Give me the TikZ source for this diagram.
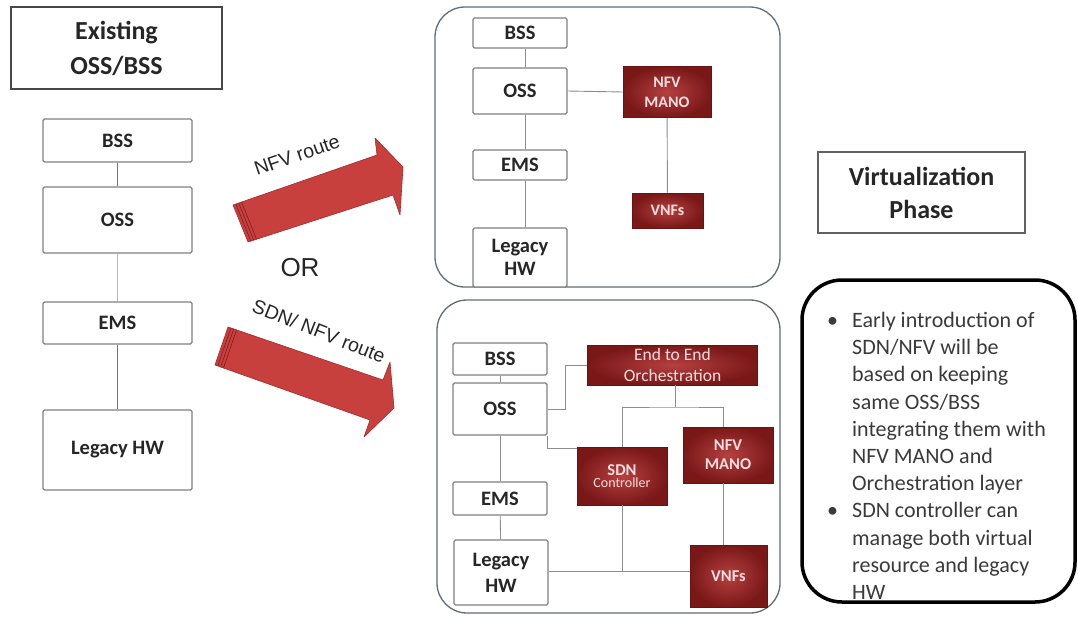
\documentclass[tikz,border=0pt]{standalone}
\usepackage{fontspec}
\setmainfont{Carlito}
\newfontfamily\arialf{Liberation Sans}
\usetikzlibrary{calc}

\definecolor{boxline}{RGB}{128,128,128}
\definecolor{labeltxt}{RGB}{38,38,38}
\definecolor{notetxt}{RGB}{58,58,58}
\definecolor{panelline}{RGB}{96,108,120}
\definecolor{redin}{RGB}{182,64,64}
\definecolor{redout}{RGB}{122,24,24}
\definecolor{redtxt}{RGB}{248,222,222}
\definecolor{arrowred}{RGB}{200,64,62}
\definecolor{arrowedge}{RGB}{165,42,42}
\definecolor{linkgray}{RGB}{140,140,140}

\begin{document}
\begin{tikzpicture}[x=1pt,y=-1pt,
  sz/.style 2 args={minimum width=#1, minimum height=#2},
  plainbox/.style={draw=boxline, line width=1.1pt, fill=white, text=labeltxt,
    align=center, inner sep=0pt, rounded corners=1.5pt,
    font=\fontsize{20.5}{23}\selectfont\bfseries},
  redbox/.style={draw=redout!85!black, line width=0.6pt, inner color=redin,
    outer color=redout, text=redtxt, align=center, inner sep=0pt},
  titlebox/.style={draw=black!72, line width=1.4pt, text=labeltxt, align=center,
    inner sep=0pt, font=\fontsize{26}{35}\selectfont\bfseries},
  panel/.style={draw=panelline, line width=1.3pt, rounded corners=30pt},
  link/.style={draw=linkgray, line width=0.9pt},
  route/.style={fill=arrowred, draw=arrowedge, line width=0.6pt, line join=round},
  routestripe/.style={draw=arrowedge!80!black, line width=0.7pt},
  routelabel/.style={font=\arialf\fontsize{19.5}{19.5}\selectfont, text=black!85, inner sep=0pt},
]
\useasboundingbox (0,0) rectangle (1078,616);

% ---------- existing stack ----------
\node[titlebox, sz={211pt}{82pt}] (exist) at (116.5,48) {Existing\\OSS/BSS};
\node[plainbox, sz={149pt}{43pt}] (lbss) at (117.5,140.5) {BSS};
\node[plainbox, sz={149pt}{66pt}] (loss) at (117.5,220) {OSS};
\node[plainbox, sz={149pt}{42pt}] (lems) at (117.5,323) {EMS};
\node[plainbox, sz={149pt}{80pt}] (lhw)  at (117.5,450) {Legacy HW};
\draw[link, draw=black!55] (lbss) -- (loss);
\draw[link, draw=black!28] (loss) -- (lems);
\draw[link, draw=black!55] (lems) -- (lhw);

% ---------- route arrows ----------
\coordinate (na1) at (233,205); \coordinate (na2) at (377,155);
\coordinate (na3) at (375,138); \coordinate (na4) at (403,167);
\coordinate (na5) at (400,215); \coordinate (na6) at (393,195);
\coordinate (na7) at (248,242);
\path[route] (na1) -- (na2) -- (na3) -- (na4) -- (na5) -- (na6) -- (na7) -- cycle;
\foreach \d in {3,6,9}
  \draw[routestripe] ($(na1)!\d pt!(na2)$) -- ($(na7)!\d pt!(na6)$);
\node[routelabel, rotate=19] (nfvlabel) at (297,155) {NFV route};

\coordinate (sa1) at (228,327); \coordinate (sa2) at (383,380);
\coordinate (sa3) at (390,362); \coordinate (sa4) at (394,408);
\coordinate (sa5) at (364,437); \coordinate (sa6) at (370,420);
\coordinate (sa7) at (215,365);
\path[route] (sa1) -- (sa2) -- (sa3) -- (sa4) -- (sa5) -- (sa6) -- (sa7) -- cycle;
\foreach \d in {3,6,9}
  \draw[routestripe] ($(sa1)!\d pt!(sa2)$) -- ($(sa7)!\d pt!(sa6)$);
\node[routelabel, rotate=-21.5] (sdnlabel) at (319,331) {SDN/ NFV route};

\node[font=\arialf\fontsize{26}{26}\selectfont, text=black!85, inner sep=0pt] (or) at (300,268) {OR};

% ---------- NFV route panel ----------
\draw[panel] (435,7) rectangle (780,287);
\node[plainbox, sz={94pt}{30pt}] (tbss) at (520,33) {BSS};
\node[plainbox, sz={94pt}{46pt}] (toss) at (520,91) {OSS};
\node[plainbox, sz={94pt}{30pt}] (tems) at (520,165) {EMS};
\node[plainbox, sz={94pt}{59pt}] (thw)  at (520,257.5) {Legacy\\HW};
\node[redbox, sz={88pt}{51pt}, font=\fontsize{16}{20}\selectfont\bfseries] (tmano) at (667,92) {NFV\\MANO};
\node[redbox, sz={71pt}{35pt}, font=\fontsize{16}{20}\selectfont\bfseries] (tvnf) at (667.5,210.5) {VNFs};
\draw[link] ([xshift=5pt]tbss.south) -- ([xshift=5pt]toss.north);
\draw[link] ([xshift=5pt]toss.south) -- ([xshift=5pt]tems.north);
\draw[link] ([xshift=5pt]tems.south) -- ([xshift=5pt]thw.north);
\draw[link] (toss.east) -- (tmano.west);
\draw[link] (tmano) -- (tvnf);

% ---------- SDN/NFV route panel ----------
\draw[panel] (437,300) rectangle (780,613);
\node[plainbox, sz={94pt}{32pt}] (bbss) at (500,359) {BSS};
\node[plainbox, sz={94pt}{52pt}] (boss) at (500,409) {OSS};
\node[plainbox, sz={94pt}{33pt}] (bems) at (500,498.5) {EMS};
\node[plainbox, sz={94pt}{65pt}, font=\fontsize{20.5}{26}\selectfont\bfseries] (bhw) at (501,572.5) {Legacy\\HW};
\node[redbox, sz={170pt}{40pt}, font=\fontsize{17.5}{21}\selectfont] (borch) at (672.5,365) {End to End\\Orchestration};
\node[redbox, sz={90pt}{58pt}] (bsdn) at (622,476)
  {{\fontsize{16.5}{20}\selectfont\bfseries SDN}\\{\fontsize{14}{17}\selectfont Controller}};
\node[redbox, sz={90pt}{56pt}, font=\fontsize{16.5}{19}\selectfont\bfseries] (bmano) at (728,455) {NFV\\MANO};
\node[redbox, sz={77pt}{62pt}, font=\fontsize{16.5}{20}\selectfont\bfseries] (bvnf) at (728.5,576) {VNFs};

\draw[link] (bbss) -- (boss);
\draw[link] (boss) -- (bems);
\draw[link] (bems) -- (bhw);
\draw[link] (boss.east) -- ++(18,0) |- (borch.west);
\draw[link] (boss.south east) |- ([yshift=-2pt]bsdn.north west);
\coordinate (orchjoin) at (675,407);
\draw[link] (orchjoin |- borch.south) -- (orchjoin);
\draw[link] (bsdn.north) |- (orchjoin) -| ([xshift=-5pt]bmano.north);
\draw[link] ([xshift=-5pt]bmano.south) -- ([xshift=-5pt]bmano.south |- bvnf.north);
\coordinate (hwbus) at (622,571);
\draw[link] (bsdn.south) -- (hwbus);
\draw[link] (bhw.east |- hwbus) -- (hwbus -| bvnf.west);

% ---------- phase title and notes ----------
\node[titlebox, draw=black!62, sz={207pt}{81pt}, font=\fontsize{26}{33}\selectfont\bfseries] (virt) at (921.5,192.5) {Virtualization\\Phase};

\node[anchor=base west, inner sep=0pt, text=notetxt,
      font=\fontsize{22}{27.2}\selectfont] (notes) at (827,327.5)
  {\begin{tabular}[t]{@{}c@{\hspace{14pt}}l@{}}
    \textbullet & Early introduction of\\
                & SDN/NFV will be\\
                & based on keeping\\
                & same OSS/BSS\\
                & integrating them with\\
                & NFV MANO and\\
                & Orchestration layer\\
    \textbullet & SDN controller can\\
                & manage both virtual\\
                & resource and legacy\\
                & HW
  \end{tabular}};
\draw[line width=3.5pt, rounded corners=40pt] (802,280) rectangle (1075,602);
\end{tikzpicture}
\end{document}
